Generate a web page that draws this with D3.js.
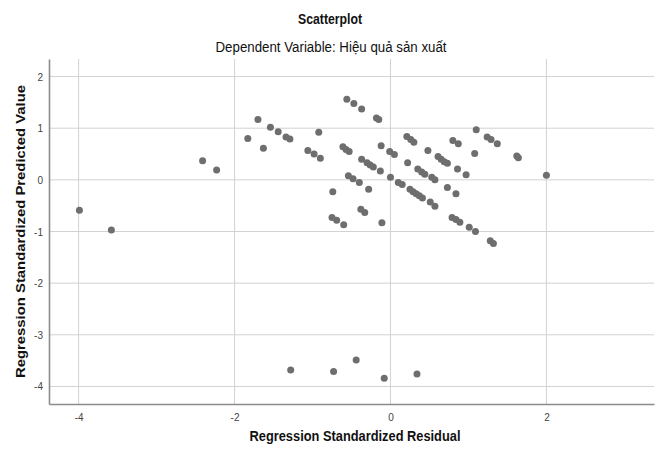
<!DOCTYPE html>
<html>
<head>
<meta charset="utf-8">
<script src="https://cdn.jsdelivr.net/npm/d3@7/dist/d3.min.js"></script>
<style>
  html, body { margin: 0; padding: 0; background: #ffffff; }
  svg { display: block; font-family: "Liberation Sans", Arial, sans-serif; }
</style>
</head>
<body>
<svg id="chart" width="659" height="450"></svg>
<script>
// ---- data ----
const title = "Scatterplot";
const subtitle = "Dependent Variable: Hiệu quả sản xuất";
const xLabel = "Regression Standardized Residual";
const yLabel = "Regression Standardized Predicted Value";
const xTicks = [-4, -2, 0, 2];
const yTicks = [-4, -3, -2, -1, 0, 1, 2];
const xDomain = [-4.38, 3.38];
const yDomain = [-4.34, 2.34];

const residual = [
  -3.99, -3.58, -2.41, -2.23, -1.83, -1.70, -1.63, -1.54, -1.44, -1.34,
  -1.29, -0.92, -1.06, -0.98, -0.90, -0.56, -0.47, -0.37, -0.18, -0.15,
  -0.61, -0.57, -0.53, -0.74, -0.37, -0.30, -0.26, -0.22, -0.13, -0.12,
  -0.01, 0.05, 0.00, -0.54, -0.48, -0.40, -0.28, -0.75, -0.69, -0.60,
  -0.38, -0.33, -0.11, 0.21, 0.26, 0.30, 0.48, 0.22, 0.10, 0.15,
  0.35, 0.40, 0.44, 0.53, 0.57, 0.61, 0.65, 0.69, 0.73, 0.25,
  0.29, 0.33, 0.37, 0.41, 0.51, 0.57, 0.73, 0.84, 0.80, 0.87,
  0.86, 0.97, 0.79, 0.84, 0.89, 1.01, 1.09, 1.10, 1.08, 1.24,
  1.29, 1.37, 1.62, 1.64, 1.28, 1.32, 2.00, -1.28, -0.73, -0.44,
  -0.08, 0.34
];
const predicted = [
  -0.59, -0.97, 0.37, 0.19, 0.80, 1.17, 0.61, 1.02, 0.93, 0.83,
  0.79, 0.92, 0.57, 0.50, 0.42, 1.56, 1.48, 1.37, 1.20, 1.17,
  0.64, 0.59, 0.55, -0.23, 0.40, 0.33, 0.29, 0.25, 0.17, 0.66,
  0.55, 0.49, 0.05, 0.08, 0.02, -0.05, -0.18, -0.73, -0.78, -0.87,
  -0.57, -0.63, -0.83, 0.84, 0.78, 0.73, 0.57, 0.33, -0.05, -0.09,
  0.21, 0.15, 0.11, 0.05, 0.00, 0.45, 0.40, 0.35, 0.32, -0.18,
  -0.23, -0.27, -0.31, -0.35, -0.43, -0.51, -0.15, -0.27, 0.76, 0.70,
  0.21, 0.10, -0.73, -0.77, -0.82, -0.92, -1.00, 0.97, 0.51, 0.83,
  0.78, 0.70, 0.46, 0.43, -1.18, -1.23, 0.09, -3.68, -3.71, -3.49,
  -3.84, -3.76
];

// ---- layout ----
const svg = d3.select("#chart");
const plot = { left: 49, right: 654, top: 59, bottom: 404 };

const x = d3.scaleLinear().domain(xDomain).range([plot.left, plot.right]);
const y = d3.scaleLinear().domain(yDomain).range([plot.bottom, plot.top]);

// gridlines
svg.append("g").selectAll("line.vg").data(xTicks).join("line")
  .attr("x1", d => x(d)).attr("x2", d => x(d))
  .attr("y1", plot.top).attr("y2", plot.bottom)
  .attr("stroke", "#d2d2d2").attr("stroke-width", 1);
svg.append("g").selectAll("line.hg").data(yTicks).join("line")
  .attr("x1", plot.left).attr("x2", plot.right)
  .attr("y1", d => y(d)).attr("y2", d => y(d))
  .attr("stroke", "#d2d2d2").attr("stroke-width", 1);

// axes (labels only; the domain paths are the axis lines)
const fmt = d => String(d);   // plain hyphen-minus as in the reference
const xAxis = d3.axisBottom(x).tickValues(xTicks).tickSize(0).tickSizeOuter(0).tickPadding(10)
  .tickFormat(fmt);
const yAxis = d3.axisLeft(y).tickValues(yTicks).tickSize(0).tickSizeOuter(0).tickPadding(6)
  .tickFormat(fmt);

const gx = svg.append("g").attr("transform", `translate(0,${plot.bottom})`).call(xAxis);
const gy = svg.append("g").attr("transform", `translate(${plot.left},0)`).call(yAxis);
[gx, gy].forEach(g => {
  g.select(".domain").attr("stroke", "#8c8c8c").attr("stroke-width", 1.6);
  g.selectAll("text").attr("fill", "#444").style("font-size", "10px")
    .style("font-family", "'Liberation Sans Narrow', 'Liberation Sans', Arial, sans-serif");
});
gy.selectAll("text").attr("dy", "0.35em");

// points
svg.append("g").selectAll("circle").data(d3.range(residual.length)).join("circle")
  .attr("cx", i => x(residual[i]))
  .attr("cy", i => y(predicted[i]))
  .attr("r", 3.5)
  .attr("fill", "#6e6e6e");

// titles
svg.append("text").text(title)
  .attr("x", 330).attr("y", 24).attr("text-anchor", "middle")
  .attr("textLength", 64).attr("lengthAdjust", "spacingAndGlyphs")
  .style("font-size", "14px").style("font-weight", "bold").attr("fill", "#111");
svg.append("text").text(subtitle)
  .attr("x", 331).attr("y", 52).attr("text-anchor", "middle")
  .attr("textLength", 231).attr("lengthAdjust", "spacingAndGlyphs")
  .style("font-size", "14px").attr("fill", "#111");
svg.append("text").text(xLabel)
  .attr("x", 355).attr("y", 441).attr("text-anchor", "middle")
  .attr("textLength", 211).attr("lengthAdjust", "spacingAndGlyphs")
  .style("font-size", "14px").style("font-weight", "bold").attr("fill", "#111");
svg.append("text").text(yLabel)
  .attr("transform", "translate(25,231.5) scale(0.85,1) rotate(-90)")
  .attr("x", 0).attr("y", 0).attr("text-anchor", "middle")
  .attr("textLength", 293).attr("lengthAdjust", "spacingAndGlyphs")
  .style("font-size", "14px").style("font-weight", "bold").attr("fill", "#111");
</script>
</body>
</html>
